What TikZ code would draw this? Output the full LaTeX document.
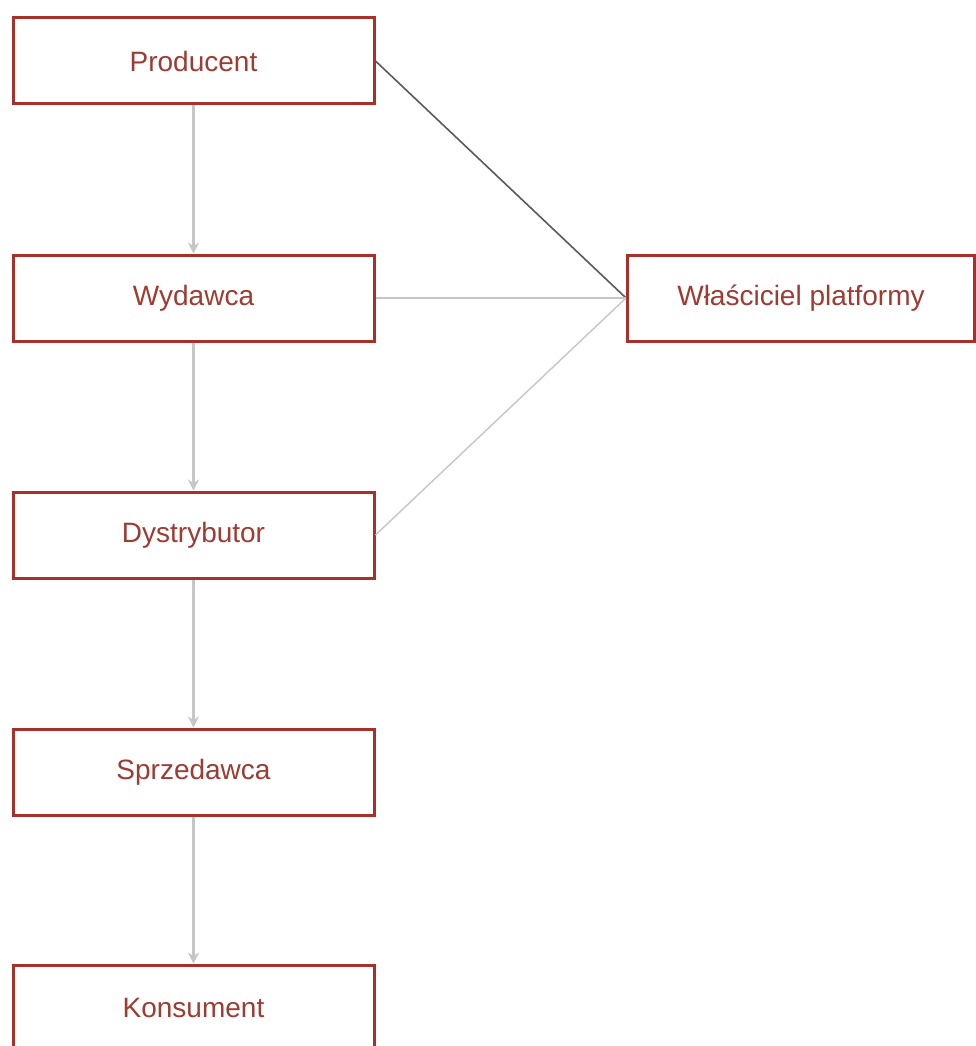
\documentclass[tikz,border=0pt]{standalone}
\usepackage{fontspec}
\setmainfont{Liberation Sans}
\usetikzlibrary{arrows.meta}
\definecolor{boxred}{HTML}{A8302A}
\definecolor{txtred}{HTML}{9E3B32}
\definecolor{lgray}{HTML}{C6C6C6}
\definecolor{dgray}{HTML}{5A5A5A}
\begin{document}
\begin{tikzpicture}[x=1pt,y=-1pt,
  rolebox/.style={draw=boxred,line width=3pt,fill=white,minimum height=86pt,inner sep=0pt,
    text=txtred,font=\fontsize{28}{32}\selectfont},
  flow/.style={draw=lgray,line width=2.6pt,-{Stealth[length=11pt,width=11pt]}},
  link/.style={draw=lgray,line width=1.4pt},
  darklink/.style={draw=dgray,line width=1.6pt}]
\clip (0,0) rectangle (976,1046);
\fill[white] (0,0) rectangle (976,1046);
\node[rolebox,minimum width=361pt] (prod) at (193.5,61) {Producent};
\node[rolebox,minimum width=361pt] (wyd) at (193.5,298) {Wydawca};
\node[rolebox,minimum width=361pt] (dys) at (193.5,535) {Dystrybutor};
\node[rolebox,minimum width=361pt] (sprz) at (193.5,772) {Sprzedawca};
\node[rolebox,minimum width=361pt] (kons) at (193.5,1008) {Konsument};
\node[rolebox,minimum width=347pt] (wlas) at (801,298) {Właściciel platformy};
\draw[flow] (prod.south) -- (wyd.north);
\draw[flow] (wyd.south) -- (dys.north);
\draw[flow] (dys.south) -- (sprz.north);
\draw[flow] (sprz.south) -- (kons.north);
\draw[darklink] (prod.east) -- (wlas.west);
\draw[link] (wyd.east) -- (wlas.west);
\draw[link] (dys.east) -- (wlas.west);
\end{tikzpicture}
\end{document}
